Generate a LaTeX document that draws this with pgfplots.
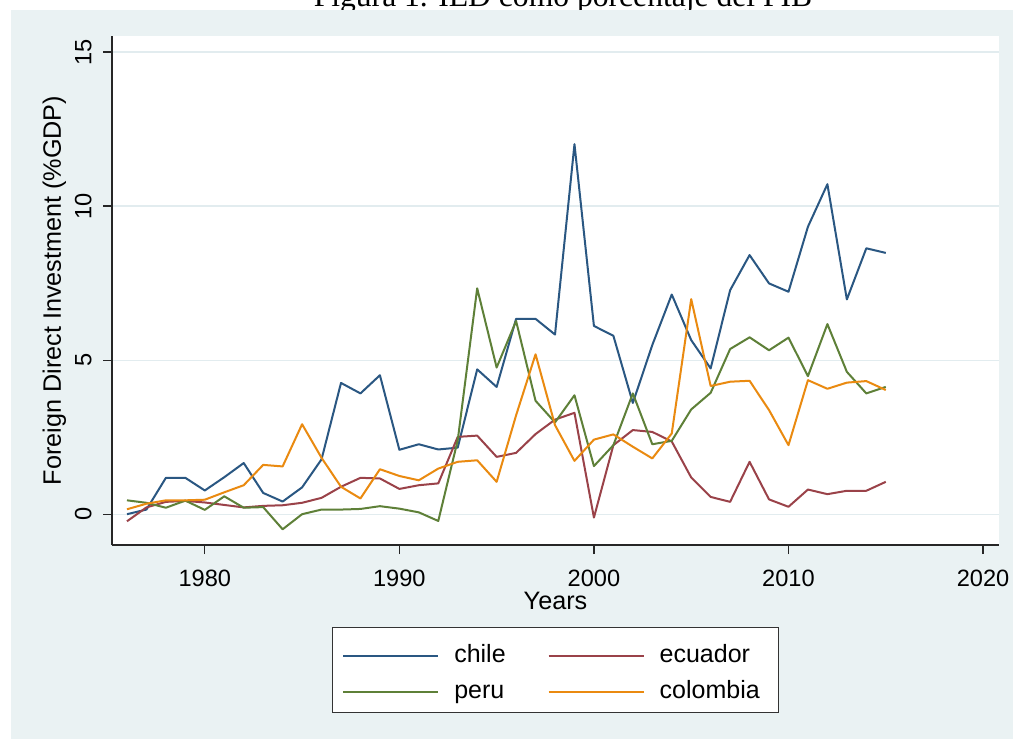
\documentclass[border=0pt]{standalone}
\usepackage{pgfplots}
\pgfplotsset{compat=1.18}
\usepackage{fontspec}
\setmainfont{Liberation Sans}
\newfontfamily\titlefont{Liberation Serif}
\definecolor{bgc}{HTML}{EAF2F3}
\definecolor{gridc}{HTML}{E2ECEF}
\definecolor{chilec}{HTML}{2A5782}
\definecolor{ecuc}{HTML}{9A4249}
\definecolor{peruc}{HTML}{5E8038}
\definecolor{colc}{HTML}{EA8A10}
\begin{document}
\begin{tikzpicture}[x=1pt,y=1pt]
\useasboundingbox (0,0) rectangle (506.5,370);
\node[font=\titlefont\fontsize{15.8}{18}\selectfont, anchor=base, inner sep=0pt] at (281.5,366.5) {Figura 1. IED como porcentaje del PIB};
\fill[bgc] (5.5,0.5) rectangle (506.5,365);
\begin{axis}[
  at={(56pt,97.5pt)}, anchor=south west,
  scale only axis, width=443.5pt, height=254.5pt,
  xmin=1975.23, xmax=2020.82, ymin=-1.0, ymax=15.52,
  axis lines*=left,
  axis line style={black!85, line width=0.6pt},
  axis background/.style={fill=white},
  tick align=outside,
  major tick length=4.5pt,
  tick style={black!85, line width=0.6pt},
  xtick={1980,1990,2000,2010,2020},
  ytick={0,5,10,15},
  ymajorgrids,
  grid style={gridc, line width=0.6pt},
  /pgf/number format/assume math mode=true,
  /pgf/number format/1000 sep={},
  tick label style={font=\fontsize{11.8}{13}\selectfont},
  xticklabel style={anchor=north, inner sep=0pt},
  xticklabel shift=8pt,
  yticklabel style={rotate=90, anchor=south, inner sep=0pt},
  yticklabel shift=5.5pt,
  label style={font=\fontsize{12.6}{14}\selectfont},
  xlabel={Years},
  xlabel style={at={(axis description cs:0.5,-0.110)}, anchor=center},
  ylabel={Foreign Direct Investment (\%GDP)},
  ylabel style={at={(axis description cs:-0.0650,0.5)}, anchor=center},
  legend columns=2,
  legend cell align=left,
  legend style={at={(axis description cs:0.5,0)}, anchor=north, yshift=-41pt,
    draw=black!80, line width=0.6pt, fill=white,
    font=\fontsize{12.5}{14}\selectfont,
    inner xsep=5pt, inner ysep=5pt, row sep=3.5pt,
    nodes={inner sep=0pt, text height=12.3pt, text depth=2.2pt, anchor=west},
    /tikz/every odd column/.append style={column sep=7.5pt},
    /tikz/every even column/.append style={column sep=21pt}},
  legend image code/.code={\draw[#1] (0pt,-1.7pt) -- (47.5pt,-1.7pt);},
  every axis plot/.append style={line width=1.0pt, line join=round, no markers},
]
\addplot[chilec] coordinates {
(1976,0.0) (1977,0.15) (1978,1.18) (1979,1.18) (1980,0.77) (1981,1.2) (1982,1.66) (1983,0.69) (1984,0.41) (1985,0.87)
(1986,1.78) (1987,4.26) (1988,3.92) (1989,4.51) (1990,2.09) (1991,2.27) (1992,2.10) (1993,2.16) (1994,4.70) (1995,4.13)
(1996,6.34) (1997,6.34) (1998,5.83) (1999,12.01) (2000,6.11) (2001,5.79) (2002,3.61) (2003,5.49) (2004,7.13) (2005,5.65)
(2006,4.73) (2007,7.27) (2008,8.41) (2009,7.49) (2010,7.22) (2011,9.33) (2012,10.71) (2013,6.97) (2014,8.63) (2015,8.48)};
\addlegendentry{chile}
\addplot[ecuc] coordinates {
(1976,-0.23) (1977,0.22) (1978,0.40) (1979,0.43) (1980,0.38) (1981,0.30) (1982,0.22) (1983,0.27) (1984,0.29) (1985,0.37)
(1986,0.53) (1987,0.89) (1988,1.18) (1989,1.16) (1990,0.82) (1991,0.94) (1992,1.00) (1993,2.51) (1994,2.55) (1995,1.86)
(1996,1.99) (1997,2.60) (1998,3.07) (1999,3.29) (2000,-0.11) (2001,2.24) (2002,2.73) (2003,2.67) (2004,2.36) (2005,1.19)
(2006,0.56) (2007,0.40) (2008,1.70) (2009,0.48) (2010,0.24) (2011,0.80) (2012,0.65) (2013,0.76) (2014,0.76) (2015,1.05)};
\addlegendentry{ecuador}
\addplot[peruc] coordinates {
(1976,0.45) (1977,0.37) (1978,0.21) (1979,0.44) (1980,0.14) (1981,0.58) (1982,0.21) (1983,0.23) (1984,-0.49) (1985,0.0)
(1986,0.15) (1987,0.15) (1988,0.17) (1989,0.26) (1990,0.18) (1991,0.06) (1992,-0.22) (1993,2.4) (1994,7.33) (1995,4.76)
(1996,6.27) (1997,3.68) (1998,2.98) (1999,3.86) (2000,1.56) (2001,2.24) (2002,3.92) (2003,2.27) (2004,2.38) (2005,3.40)
(2006,3.94) (2007,5.36) (2008,5.74) (2009,5.32) (2010,5.73) (2011,4.48) (2012,6.17) (2013,4.62) (2014,3.92) (2015,4.13)};
\addlegendentry{peru}
\addplot[colc] coordinates {
(1976,0.16) (1977,0.34) (1978,0.45) (1979,0.45) (1980,0.47) (1981,0.71) (1982,0.94) (1983,1.60) (1984,1.55) (1985,2.92)
(1986,1.83) (1987,0.89) (1988,0.51) (1989,1.46) (1990,1.24) (1991,1.10) (1992,1.48) (1993,1.70) (1994,1.75) (1995,1.05)
(1996,3.21) (1997,5.19) (1998,2.89) (1999,1.73) (2000,2.42) (2001,2.59) (2002,2.19) (2003,1.81) (2004,2.62) (2005,6.98)
(2006,4.16) (2007,4.30) (2008,4.33) (2009,3.38) (2010,2.24) (2011,4.35) (2012,4.07) (2013,4.27) (2014,4.32) (2015,4.03)};
\addlegendentry{colombia\hspace*{4.5pt}}
\end{axis}
\end{tikzpicture}
\end{document}
